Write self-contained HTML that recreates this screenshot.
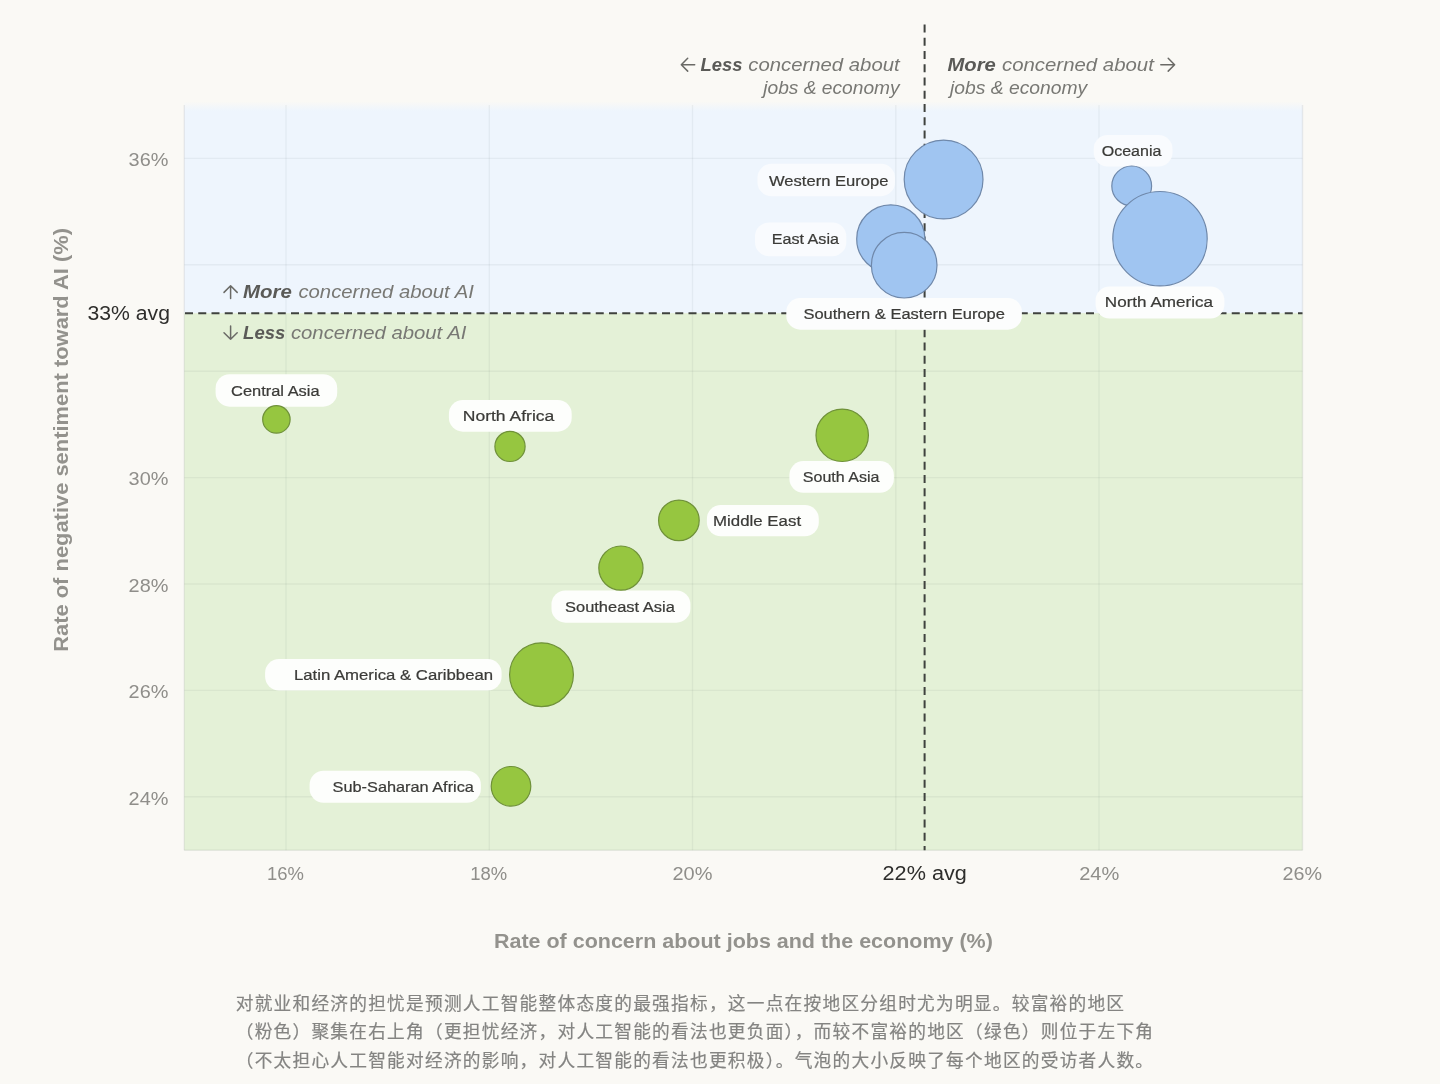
<!DOCTYPE html>
<html lang="zh-CN"><head><meta charset="utf-8">
<title>Regional concern about AI, jobs and the economy</title>
<style>html,body{margin:0;padding:0;background:#FAF9F5;}body{width:1440px;height:1084px;overflow:hidden;}svg{display:block;}text{font-family:"Liberation Sans", sans-serif;white-space:pre;}text.cjk{font-family:"Liberation Sans", "Noto Sans CJK SC", sans-serif;}</style>
</head><body>
<svg width="1440" height="1084" viewBox="0 0 1440 1084">
<rect x="0" y="0" width="1440" height="1084" fill="#FAF9F5"/>
<defs><linearGradient id="topfade" x1="0" y1="0" x2="0" y2="1"><stop offset="0" stop-color="#EEF5FD" stop-opacity="0"/><stop offset="1" stop-color="#EEF5FD" stop-opacity="1"/></linearGradient></defs>
<rect x="184.3" y="101.5" width="1118.2" height="9.5" fill="url(#topfade)"/>
<rect x="184.3" y="111.0" width="1118.2" height="202.2" fill="#EEF5FD"/>
<rect x="184.3" y="313.2" width="1118.2" height="537.1" fill="#E4F1D7"/>
<g stroke="rgba(40,50,60,0.055)" stroke-width="1.4" fill="none">
<line x1="286.0" y1="105.0" x2="286.0" y2="850.3"/>
<line x1="489.3" y1="105.0" x2="489.3" y2="850.3"/>
<line x1="692.5" y1="105.0" x2="692.5" y2="850.3"/>
<line x1="895.8" y1="105.0" x2="895.8" y2="850.3"/>
<line x1="1099.0" y1="105.0" x2="1099.0" y2="850.3"/>
<line x1="184.3" y1="158.4" x2="1302.5" y2="158.4"/>
<line x1="184.3" y1="264.8" x2="1302.5" y2="264.8"/>
<line x1="184.3" y1="371.2" x2="1302.5" y2="371.2"/>
<line x1="184.3" y1="477.6" x2="1302.5" y2="477.6"/>
<line x1="184.3" y1="584.0" x2="1302.5" y2="584.0"/>
<line x1="184.3" y1="690.4" x2="1302.5" y2="690.4"/>
<line x1="184.3" y1="796.8" x2="1302.5" y2="796.8"/>
</g>
<g stroke="rgba(40,50,60,0.08)" stroke-width="1.4" fill="none">
<line x1="184.3" y1="105.0" x2="184.3" y2="850.3"/>
<line x1="1302.5" y1="105.0" x2="1302.5" y2="850.3"/>
<line x1="184.3" y1="850.3" x2="1302.5" y2="850.3"/>
</g>
<g stroke="#3F423E" stroke-width="2" stroke-dasharray="8 5.25" fill="none">
<line x1="185.0" y1="313.2" x2="1302.5" y2="313.2"/>
<line x1="924.6" y1="24.4" x2="924.6" y2="850.3"/>
</g>
<rect x="757.5" y="163.8" width="137.5" height="32.4" rx="14.0" fill="#F9FBFE"/>
<rect x="755.0" y="222.5" width="91.3" height="33.7" rx="14.0" fill="#F9FBFE"/>
<rect x="786.3" y="298.0" width="235.6" height="31.7" rx="14.0" fill="#FCFDFD"/>
<rect x="1093.7" y="135.0" width="78.8" height="31.6" rx="14.0" fill="#F9FBFE"/>
<rect x="1095.6" y="286.5" width="128.8" height="32.0" rx="14.0" fill="#FCFDFD"/>
<rect x="215.6" y="374.2" width="121.6" height="32.5" rx="14.0" fill="#FDFEFC"/>
<rect x="448.9" y="400.0" width="122.8" height="31.7" rx="14.0" fill="#FDFEFC"/>
<rect x="789.4" y="461.1" width="104.5" height="31.7" rx="14.0" fill="#FDFEFC"/>
<rect x="706.9" y="505.0" width="111.9" height="31.3" rx="14.0" fill="#FDFEFC"/>
<rect x="551.5" y="590.4" width="138.9" height="32.3" rx="14.0" fill="#FDFEFC"/>
<rect x="265.1" y="658.9" width="236.5" height="31.6" rx="14.0" fill="#FDFEFC"/>
<rect x="309.6" y="770.7" width="171.3" height="32.1" rx="14.0" fill="#FDFEFC"/>
<circle cx="943.6" cy="179.5" r="39.4" fill="#A0C5F1" stroke="#6F88AA" stroke-width="1.2"/>
<circle cx="890.8" cy="238.9" r="34.1" fill="#A0C5F1" stroke="#6F88AA" stroke-width="1.2"/>
<circle cx="904.2" cy="265.2" r="32.8" fill="#A0C5F1" stroke="#6F88AA" stroke-width="1.2"/>
<circle cx="1131.7" cy="185.9" r="19.9" fill="#A0C5F1" stroke="#6F88AA" stroke-width="1.2"/>
<circle cx="1160.0" cy="238.7" r="47.2" fill="#A0C5F1" stroke="#6F88AA" stroke-width="1.2"/>
<circle cx="276.4" cy="419.4" r="13.7" fill="#96C640" stroke="#6F9139" stroke-width="1.2"/>
<circle cx="510.0" cy="446.4" r="15.1" fill="#96C640" stroke="#6F9139" stroke-width="1.2"/>
<circle cx="842.2" cy="435.3" r="26.2" fill="#96C640" stroke="#6F9139" stroke-width="1.2"/>
<circle cx="678.9" cy="520.4" r="20.3" fill="#96C640" stroke="#6F9139" stroke-width="1.2"/>
<circle cx="620.9" cy="568.1" r="22.1" fill="#96C640" stroke="#6F9139" stroke-width="1.2"/>
<circle cx="541.5" cy="674.7" r="31.9" fill="#96C640" stroke="#6F9139" stroke-width="1.2"/>
<circle cx="511.0" cy="786.3" r="19.8" fill="#96C640" stroke="#6F9139" stroke-width="1.2"/>
<g stroke="#6A6A66" stroke-width="1.5" fill="none" stroke-linecap="round" stroke-linejoin="round">
<path d="M230.6 298.4V285.8M224.0 292.4L230.6 285.8L237.2 292.4"/>
<path d="M230.6 326.0V339.3M224.0 332.7L230.6 339.3L237.2 332.7"/>
<path d="M694.7 64.7H681.3M687.7 58.3L681.3 64.7L687.7 71.1"/>
<path d="M1160.8 64.7H1174.6M1168.2 58.3L1174.6 64.7L1168.2 71.1"/>
</g>
<text id="lb0" font-size="15.00" fill="#3B3B38" stroke="#3B3B38" stroke-width="0.22" transform="translate(769.00 185.60) scale(1.1051 1)">Western Europe</text>
<text id="lb1" font-size="15.00" fill="#3B3B38" stroke="#3B3B38" stroke-width="0.22" transform="translate(771.72 244.40) scale(1.0759 1)">East Asia</text>
<text id="lb2" font-size="15.00" fill="#3B3B38" stroke="#3B3B38" stroke-width="0.22" transform="translate(803.40 318.80) scale(1.0994 1)">Southern &amp; Eastern Europe</text>
<text id="lb3" font-size="15.00" fill="#3B3B38" stroke="#3B3B38" stroke-width="0.22" transform="translate(1101.70 156.10) scale(1.0703 1)">Oceania</text>
<text id="lb4" font-size="15.00" fill="#3B3B38" stroke="#3B3B38" stroke-width="0.22" transform="translate(1104.86 307.30) scale(1.1391 1)">North America</text>
<text id="lb5" font-size="15.00" fill="#3B3B38" stroke="#3B3B38" stroke-width="0.22" transform="translate(231.10 395.60) scale(1.0952 1)">Central Asia</text>
<text id="lb6" font-size="15.00" fill="#3B3B38" stroke="#3B3B38" stroke-width="0.22" transform="translate(462.73 421.10) scale(1.1694 1)">North Africa</text>
<text id="lb7" font-size="15.00" fill="#3B3B38" stroke="#3B3B38" stroke-width="0.22" transform="translate(802.80 482.20) scale(1.0696 1)">South Asia</text>
<text id="lb8" font-size="15.00" fill="#3B3B38" stroke="#3B3B38" stroke-width="0.22" transform="translate(713.08 525.80) scale(1.1240 1)">Middle East</text>
<text id="lb9" font-size="15.00" fill="#3B3B38" stroke="#3B3B38" stroke-width="0.22" transform="translate(565.00 611.80) scale(1.0979 1)">Southeast Asia</text>
<text id="lb10" font-size="15.00" fill="#3B3B38" stroke="#3B3B38" stroke-width="0.22" transform="translate(293.88 680.00) scale(1.1174 1)">Latin America &amp; Caribbean</text>
<text id="lb11" font-size="15.00" fill="#3B3B38" stroke="#3B3B38" stroke-width="0.22" transform="translate(332.60 791.80) scale(1.0869 1)">Sub-Saharan Africa</text>
<text id="yt36" font-size="19.00" fill="#8F8E8A" transform="translate(128.60 166.20) scale(1.0463 1)">36%</text>
<text id="yt30" font-size="19.00" fill="#8F8E8A" transform="translate(128.60 485.40) scale(1.0463 1)">30%</text>
<text id="yt28" font-size="19.00" fill="#8F8E8A" transform="translate(128.60 591.80) scale(1.0463 1)">28%</text>
<text id="yt26" font-size="19.00" fill="#8F8E8A" transform="translate(128.60 698.20) scale(1.0463 1)">26%</text>
<text id="yt24" font-size="19.00" fill="#8F8E8A" transform="translate(128.60 804.60) scale(1.0463 1)">24%</text>
<text id="xt16" font-size="19.00" fill="#8F8E8A" transform="translate(266.93 879.80) scale(0.9722 1)">16%</text>
<text id="xt18" font-size="19.00" fill="#8F8E8A" transform="translate(470.33 879.80) scale(0.9722 1)">18%</text>
<text id="xt20" font-size="19.00" fill="#8F8E8A" transform="translate(672.50 879.80) scale(1.0516 1)">20%</text>
<text id="xt24" font-size="19.00" fill="#8F8E8A" transform="translate(1079.20 879.80) scale(1.0542 1)">24%</text>
<text id="xt26" font-size="19.00" fill="#8F8E8A" transform="translate(1282.50 879.80) scale(1.0384 1)">26%</text>
<text id="avgx" font-size="20.80" fill="#2E2E2C" transform="translate(882.56 880.00) scale(1.0407 1)">22% avg</text>
<text id="avgy" font-size="20.80" fill="#2E2E2C" transform="translate(87.50 320.00) scale(1.0191 1)">33% avg</text>
<text id="xtitle" font-size="20.00" fill="#93928D" font-weight="bold" transform="translate(493.93 947.70) scale(1.0745 1)">Rate of concern about jobs and the economy (%)</text>
<text id="ytitle" font-size="20.00" fill="#93928D" font-weight="bold" transform="translate(68.10 651.80) rotate(-90) scale(1.0951 1)">Rate of negative sentiment toward AI (%)</text>
<text id="an1b" font-size="18.00" fill="#5A5A57" font-weight="bold" font-style="italic" transform="translate(700.50 71.30) scale(1.0240 1)">Less</text>
<text id="an1r" font-size="18.00" fill="#787874" font-style="italic" transform="translate(748.30 71.30) scale(1.1288 1)">concerned about</text>
<text id="an2" font-size="18.00" fill="#787874" font-style="italic" transform="translate(763.20 93.80) scale(1.0661 1)">jobs &amp; economy</text>
<text id="an3b" font-size="18.00" fill="#5A5A57" font-weight="bold" font-style="italic" transform="translate(947.50 71.30) scale(1.1234 1)">More</text>
<text id="an3r" font-size="18.00" fill="#787874" font-style="italic" transform="translate(1002.00 71.30) scale(1.1325 1)">concerned about</text>
<text id="an4" font-size="18.00" fill="#787874" font-style="italic" transform="translate(949.92 93.80) scale(1.0722 1)">jobs &amp; economy</text>
<text id="an5b" font-size="18.00" fill="#5A5A57" font-weight="bold" font-style="italic" transform="translate(243.10 298.40) scale(1.1350 1)">More</text>
<text id="an5r" font-size="18.00" fill="#787874" font-style="italic" transform="translate(298.40 298.40) scale(1.1293 1)">concerned about AI</text>
<text id="an6b" font-size="18.00" fill="#5A5A57" font-weight="bold" font-style="italic" transform="translate(243.10 338.75) scale(1.0289 1)">Less</text>
<text id="an6r" font-size="18.00" fill="#787874" font-style="italic" transform="translate(290.90 338.75) scale(1.1293 1)">concerned about AI</text>
<text id="cap0" font-size="17.70" fill="#848482" class="cjk" letter-spacing="1.24" stroke="#848482" stroke-width="0.20" transform="translate(235.70 1010.00)">对就业和经济的担忧是预测人工智能整体态度的最强指标，这一点在按地区分组时尤为明显。较富裕的地区</text>
<text id="cap1" font-size="17.70" fill="#848482" class="cjk" letter-spacing="1.24" stroke="#848482" stroke-width="0.20" transform="translate(235.70 1038.30)">（粉色）聚集在右上角（更担忧经济，对人工智能的看法也更负面），而较不富裕的地区（绿色）则位于左下角</text>
<text id="cap2" font-size="17.70" fill="#848482" class="cjk" letter-spacing="1.24" stroke="#848482" stroke-width="0.20" transform="translate(235.70 1066.60)">（不太担心人工智能对经济的影响，对人工智能的看法也更积极）。气泡的大小反映了每个地区的受访者人数。</text>
</svg>
</body></html>
